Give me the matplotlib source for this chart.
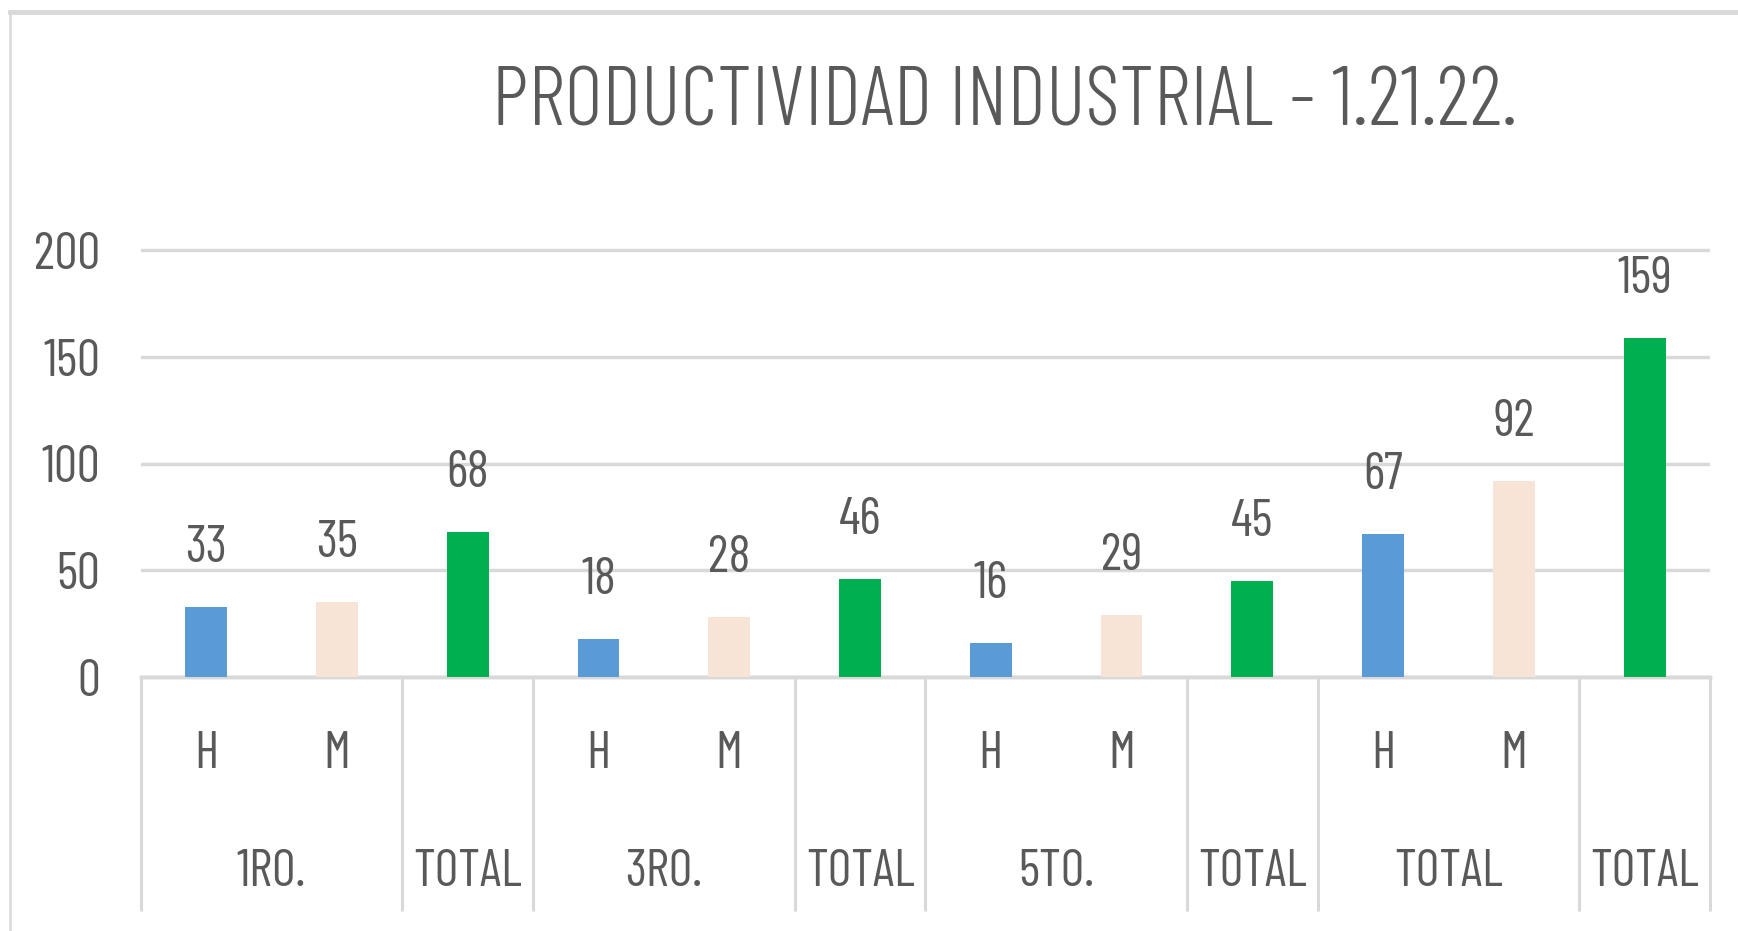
import matplotlib
matplotlib.use('Agg')
import matplotlib.pyplot as plt
from matplotlib.lines import Line2D
import numpy as np

# ---- data ----
categories_l1 = ['H', 'M', '', 'H', 'M', '', 'H', 'M', '', 'H', 'M', '']
series = ['H', 'M', 'TOTAL', 'H', 'M', 'TOTAL', 'H', 'M', 'TOTAL', 'H', 'M', 'TOTAL']
values = [33, 35, 68, 18, 28, 46, 16, 29, 45, 67, 92, 159]
groups = ['1RO.', 'TOTAL', '3RO.', 'TOTAL', '5TO.', 'TOTAL', 'TOTAL', 'TOTAL']
group_sizes = [2, 1, 2, 1, 2, 1, 2, 1]
yticks = [0, 50, 100, 150, 200]
title = 'PRODUCTIVIDAD INDUSTRIAL - 1.21.22.'

colors = {'H': '#5B9BD5', 'M': '#F8E4D6', 'TOTAL': '#00B050'}
text_color = '#595959'
grid_color = '#D9D9D9'

plt.rcParams['font.family'] = ['Barlow Condensed', 'DejaVu Sans']
plt.rcParams['font.weight'] = 400
FS = 37

W, H = 1738, 931
fig = plt.figure(figsize=(W / 100, H / 100), dpi=100)
px_per_unit = (677 - 250.5) / 200
ymax = 201
ax_left = 140.8 / W
ax_right = 1710 / W
ax_bottom = (H - 677) / H
ax_height = ymax * px_per_unit / H
ax = fig.add_axes([ax_left, ax_bottom, ax_right - ax_left, ax_height])

x = np.arange(len(values))
ax.bar(x, values, width=0.32, color=[colors[s] for s in series], zorder=3)

for xi, v in zip(x, values):
    ax.annotate(f'{v}', (xi, v), xytext=(0, 32.4), textcoords='offset points',
                ha='center', va='baseline', fontsize=FS, color=text_color)

ax.set_xlim(-0.5, len(values) - 0.5)
ax.set_ylim(0, ymax)
ax.set_yticks(yticks)
ax.yaxis.grid(True, color=grid_color, lw=2.5)
ax.set_axisbelow(True)
for s in ['top', 'right', 'left']:
    ax.spines[s].set_visible(False)
ax.spines['bottom'].set_color(grid_color)
ax.spines['bottom'].set_linewidth(2.5)
ax.tick_params(axis='y', length=0, pad=29.4, labelsize=FS, labelcolor=text_color)
ax.set_xticks(x, categories_l1)
ax.tick_params(axis='x', length=0, pad=65.5, labelsize=FS, labelcolor=text_color)
for lbl in ax.get_xticklabels():
    lbl.set_verticalalignment('baseline')

# second level of the category axis
sizes = np.array(group_sizes)
bounds = np.concatenate([[0], np.cumsum(sizes)]) - 0.5
centers = bounds[:-1] + sizes / 2
sec = ax.secondary_xaxis('bottom')
sec.set_xticks(bounds)
sec.set_xticklabels([''] * len(bounds))
sec.tick_params(which='major', length=234 * 0.72, width=2.2, color=grid_color)
sec.set_xticks(centers, groups, minor=True)
sec.tick_params(which='minor', length=0, pad=150.5, labelsize=FS, labelcolor=text_color)
for lbl in sec.get_xticklabels(minor=True):
    lbl.set_verticalalignment('baseline')
sec.spines['bottom'].set_color(grid_color)
sec.spines['bottom'].set_linewidth(2.5)

# title
fig.text(1005 / W, 1 - 126 / H, title, ha='center', va='baseline', fontsize=60,
         color=text_color, fontweight=300)

# chart border (top and left visible)
fig.add_artist(Line2D([9.5 / W, 1], [1 - 11.7 / H] * 2, transform=fig.transFigure, color=grid_color, lw=3.5))
fig.add_artist(Line2D([9.5 / W] * 2, [0, 1 - 11.7 / H], transform=fig.transFigure, color=grid_color, lw=1.8))

fig.savefig('out.png', dpi=100)
